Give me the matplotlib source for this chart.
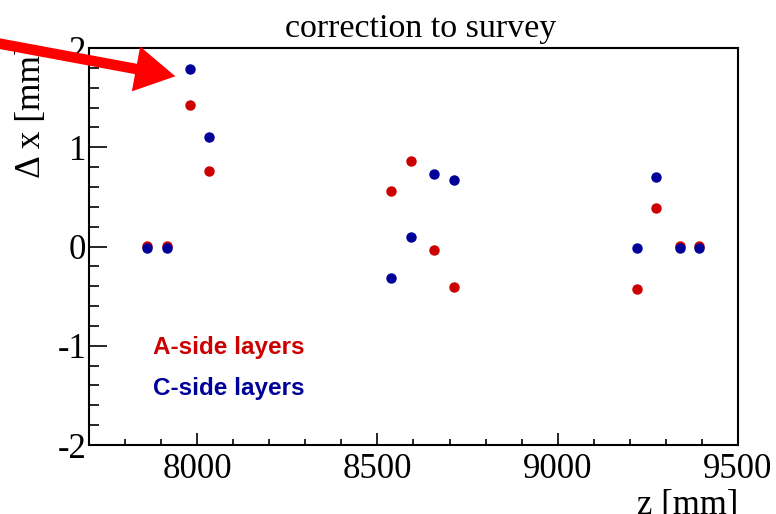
"""Survey correction per layer: delta x versus z for A-side and C-side layers."""

import matplotlib
matplotlib.use('Agg')
import matplotlib.pyplot as plt
from matplotlib.ticker import MultipleLocator

# Data
z_layers = [7861, 7916, 7979, 8034, 8538, 8593, 8657, 8712, 9219, 9274, 9338, 9393]
dx_a_side = [0.01, 0.01, 1.43, 0.76, 0.56, 0.86, -0.04, -0.41, -0.43, 0.39, 0.01, 0.01]
err_a_side = [0.01, 0.01, 0.03, 0.01, 0.01, 0.01, 0.01, 0.01, 0.01, 0.01, 0.01, 0.01]
dx_c_side = [-0.01, -0.01, 1.79, 1.10, -0.32, 0.10, 0.73, 0.67, -0.02, 0.70, -0.01, -0.01]
err_c_side = [0.01, 0.01, 0.04, 0.01, 0.01, 0.01, 0.01, 0.01, 0.01, 0.01, 0.01, 0.01]

x_ticks = [8000, 8500, 9000, 9500]
y_ticks = [-2, -1, 0, 1, 2]

red = '#cc0000'
blue = '#000099'
serif = ['Liberation Serif', 'DejaVu Serif']
sans = ['Liberation Sans', 'DejaVu Sans']

plt.rcParams['axes.unicode_minus'] = False


def render_data():
    fig = plt.figure(figsize=(7.76, 5.14), dpi=100)
    ax = fig.add_axes([0.1147, 0.1342, 0.8363, 0.7724])

    ax.errorbar(z_layers, dx_a_side, yerr=err_a_side, fmt='o', color=red,
                ms=6.5, elinewidth=1.5, capsize=0, zorder=3)
    ax.errorbar(z_layers, dx_c_side, yerr=err_c_side, fmt='o', color=blue,
                ms=6.5, elinewidth=1.5, capsize=0, zorder=3)

    ax.set_xlim(7700, 9500)
    ax.set_ylim(-2, 2)
    ax.set_xticks(x_ticks)
    ax.set_yticks(y_ticks)
    ax.xaxis.set_minor_locator(MultipleLocator(100))
    ax.yaxis.set_minor_locator(MultipleLocator(0.2))
    ax.tick_params(which='both', direction='in', top=False, right=False, width=1.2)
    ax.tick_params(axis='x', which='major', length=9, pad=6)
    ax.tick_params(axis='x', which='minor', length=4.5)
    ax.tick_params(axis='y', which='major', length=13, pad=2)
    ax.tick_params(axis='y', which='minor', length=7)
    for lab in ax.get_xticklabels() + ax.get_yticklabels():
        lab.set_family(serif)
        lab.set_fontsize(25)
    for sp in ax.spines.values():
        sp.set_linewidth(1.5)

    ax.set_xlabel('z [mm]', family=serif, fontsize=25, ha='right')
    ax.xaxis.set_label_coords(1.0, -0.11)
    ax.set_ylabel('\u0394 x [mm]', family=serif, fontsize=25.5, ha='right')
    ax.yaxis.set_label_coords(-0.063, 1.013)
    fig.text(0.542, 0.945, 'correction to survey', family=serif, fontsize=24.5,
             ha='center', va='center')

    ax.text(0.099, 0.245, 'A-side layers', transform=ax.transAxes, color=red,
            family=sans, weight='bold', fontsize=17.5, va='center')
    ax.text(0.099, 0.143, 'C-side layers', transform=ax.transAxes, color=blue,
            family=sans, weight='bold', fontsize=17.5, va='center')

    # red arrow pointing at the largest C-side correction
    ax.annotate('', xy=(7947, 1.71), xycoords='data',
                xytext=(-20, 474), textcoords='figure pixels',
                arrowprops=dict(arrowstyle='simple,head_length=0.72,head_width=0.82,tail_width=0.19',
                                mutation_scale=40, color='red', lw=0),
                annotation_clip=False, zorder=5)

    fig.savefig('out.png', dpi=100)


def main():
    render_data()


if __name__ == "__main__":
    main()
